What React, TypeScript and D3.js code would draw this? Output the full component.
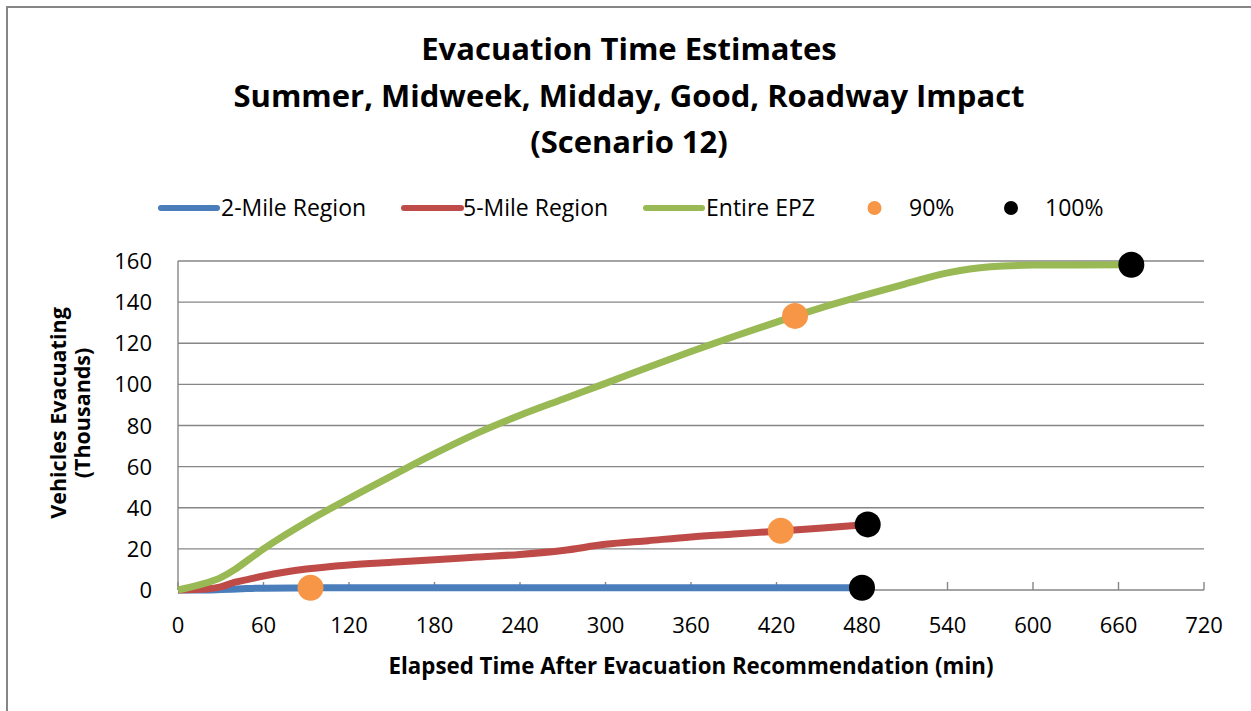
import React, { useEffect, useRef } from 'react';
import * as d3 from 'd3';

// minutes after recommendation, vehicles evacuating (thousands)
const twoMileTime = [0, 20, 30, 45, 60, 90, 120, 180, 240, 300, 360, 420, 480];
const twoMileValues = [0, 0, 0.2, 0.6, 0.9, 1.0, 1.1, 1.1, 1.1, 1.1, 1.1, 1.1, 1.1];

const fiveMileTime = [0, 20, 30, 40, 50, 60, 90, 120, 150, 180, 210, 240, 270, 300, 330, 360, 390, 420, 450, 484];
const fiveMileValues = [0, 0.5, 1.5, 3.8, 5.3, 6.8, 10.2, 12.2, 13.5, 14.7, 16, 17.3, 19.2, 22.2, 24, 25.8, 27.2, 28.6, 30, 31.9];

const epzTime = [0, 15, 30, 40, 50, 60, 90, 120, 150, 180, 210, 240, 270, 300, 330, 360, 390, 420, 450, 480, 510, 540, 570, 600, 630, 669];
const epzValues = [0, 2.5, 6, 10, 15, 20, 33, 44.5, 55.5, 66.3, 76.3, 85, 92.8, 100.5, 108.3, 116, 123.3, 130.3, 137, 143, 148.8, 154.2, 157.2, 158, 158.1, 158.2];

// 90% and 100% markers: [minutes, thousands]
const pct90Points = [[93, 1.1], [423, 28.8], [433, 133.3]];
const pct100Points = [[480, 1.1], [484, 31.9], [669, 158.2]];

const xTicks = [0, 60, 120, 180, 240, 300, 360, 420, 480, 540, 600, 660, 720];
const yTicks = [0, 20, 40, 60, 80, 100, 120, 140, 160];

const titleLines = [
  'Evacuation Time Estimates',
  'Summer, Midweek, Midday, Good, Roadway Impact',
  '(Scenario 12)',
];

const FONT = '"Open Sans", Calibri, sans-serif';
const GRID = '#868686';

const App: React.FC = () => {
  const svgRef = useRef<SVGSVGElement>(null);

  useEffect(() => {
    if (!svgRef.current) return;
    const svg = d3.select(svgRef.current);
    svg.selectAll('*').remove();

    const x = d3.scaleLinear().domain([0, 720]).range([178, 1204]);
    const y = d3.scaleLinear().domain([0, 160]).range([590, 261]);

    // outer chart border (left & top visible)
    svg.append('path')
      .attr('d', 'M7,720 L7,7 L1260,7')
      .attr('fill', 'none')
      .attr('stroke', GRID)
      .attr('stroke-width', 2);

    // title
    const title = svg.append('text')
      .attr('text-anchor', 'middle')
      .style('font-family', FONT)
      .style('font-weight', 700)
      .style('font-size', '31px')
      .attr('fill', '#000');
    const titleY = [60, 107, 153];
    titleLines.forEach((t, i) => {
      title.append('tspan').attr('x', 629).attr('y', titleY[i]).text(t);
    });

    // gridlines
    svg.append('g').selectAll('line')
      .data(yTicks)
      .enter().append('line')
      .attr('x1', x(0)).attr('x2', x(720))
      .attr('y1', d => y(d)).attr('y2', d => y(d))
      .attr('stroke', GRID)
      .attr('stroke-width', 1.4);

    // y axis line
    svg.append('line')
      .attr('x1', x(0)).attr('x2', x(0))
      .attr('y1', y(160)).attr('y2', y(0))
      .attr('stroke', GRID).attr('stroke-width', 1.4);

    // x ticks (inside)
    svg.append('g').selectAll('line')
      .data(xTicks)
      .enter().append('line')
      .attr('x1', d => x(d)).attr('x2', d => x(d))
      .attr('y1', y(0)).attr('y2', y(0) - 8)
      .attr('stroke', GRID).attr('stroke-width', 1.4);

    // tick labels
    svg.append('g').selectAll('text')
      .data(yTicks)
      .enter().append('text')
      .attr('x', 152)
      .attr('y', d => y(d) + 8)
      .attr('text-anchor', 'end')
      .style('font-family', FONT)
      .style('font-size', '22px')
      .text(d => d);

    svg.append('g').selectAll('text')
      .data(xTicks)
      .enter().append('text')
      .attr('x', d => x(d))
      .attr('y', 633)
      .attr('text-anchor', 'middle')
      .style('font-family', FONT)
      .style('font-size', '22px')
      .text(d => d);

    // axis titles
    svg.append('text')
      .attr('x', 691)
      .attr('y', 674)
      .attr('text-anchor', 'middle')
      .style('font-family', FONT)
      .style('font-weight', 700)
      .style('font-size', '22.3px')
      .text('Elapsed Time After Evacuation Recommendation (min)');

    const yTitle = svg.append('text')
      .attr('transform', 'translate(0,413) rotate(-90)')
      .attr('text-anchor', 'middle')
      .style('font-family', FONT)
      .style('font-weight', 700)
      .style('font-size', '21.5px');
    yTitle.append('tspan').attr('x', 0).attr('y', 66).text('Vehicles Evacuating');
    yTitle.append('tspan').attr('x', 0).attr('y', 90).text('(Thousands)');

    // series
    const line = d3.line<[number, number]>()
      .x(d => x(d[0]))
      .y(d => y(d[1]))
      .curve(d3.curveMonotoneX);

    const series = [
      { t: twoMileTime, v: twoMileValues, color: '#4A7EBB' },
      { t: fiveMileTime, v: fiveMileValues, color: '#BE4B48' },
      { t: epzTime, v: epzValues, color: '#98B954' },
    ];
    series.forEach(s => {
      const pts = s.t.map((t, i) => [t, s.v[i]] as [number, number]);
      svg.append('path')
        .attr('d', line(pts))
        .attr('fill', 'none')
        .attr('stroke', s.color)
        .attr('stroke-width', 7)
        .attr('stroke-linejoin', 'round');
    });

    // markers
    svg.append('g').selectAll('circle')
      .data(pct90Points)
      .enter().append('circle')
      .attr('cx', d => x(d[0])).attr('cy', d => y(d[1]))
      .attr('r', 13)
      .attr('fill', '#F79646');
    svg.append('g').selectAll('circle')
      .data(pct100Points)
      .enter().append('circle')
      .attr('cx', d => x(d[0])).attr('cy', d => y(d[1]))
      .attr('r', 13)
      .attr('fill', '#000');

    // legend
    const legendY = 208;
    const lg = svg.append('g');
    const legendLines = [
      { x1: 161, x2: 217, tx: 221, color: '#4A7EBB', label: '2-Mile Region' },
      { x1: 404, x2: 461, tx: 463, color: '#BE4B48', label: '5-Mile Region' },
      { x1: 646, x2: 702, tx: 706, color: '#98B954', label: 'Entire EPZ' },
    ];
    legendLines.forEach(l => {
      lg.append('line')
        .attr('x1', l.x1).attr('x2', l.x2)
        .attr('y1', legendY).attr('y2', legendY)
        .attr('stroke', l.color).attr('stroke-width', 6)
        .attr('stroke-linecap', 'round');
      lg.append('text')
        .attr('x', l.tx).attr('y', legendY + 8)
        .style('font-family', FONT).style('font-size', '23px')
        .text(l.label);
    });
    const legendDots = [
      { cx: 874.5, tx: 909, color: '#F79646', label: '90%' },
      { cx: 1011, tx: 1045, color: '#000', label: '100%' },
    ];
    legendDots.forEach(l => {
      lg.append('circle')
        .attr('cx', l.cx).attr('cy', legendY).attr('r', 7)
        .attr('fill', l.color);
      lg.append('text')
        .attr('x', l.tx).attr('y', legendY + 8)
        .style('font-family', FONT).style('font-size', '23px')
        .text(l.label);
    });
  }, []);

  return (
    <svg
      ref={svgRef}
      width={1251}
      height={711}
      style={{ position: 'absolute', left: 0, top: 0, background: '#fff' }}
    />
  );
};

export default App;
